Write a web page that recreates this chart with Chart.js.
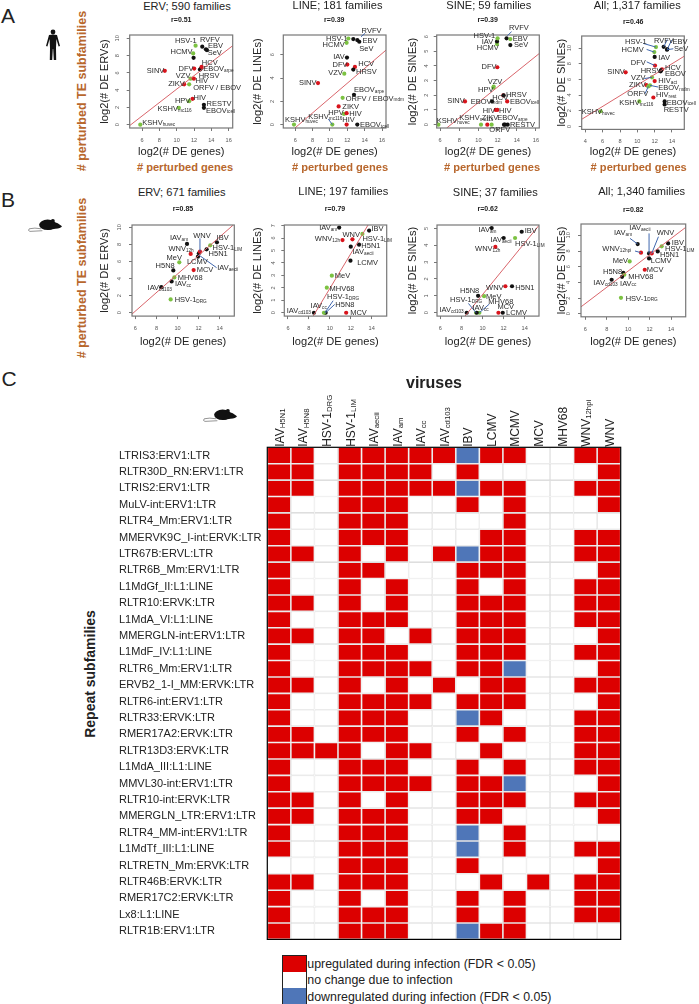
<!DOCTYPE html>
<html>
<head>
<meta charset="utf-8">
<title>TE subfamilies</title>
<script src="https://cdn.jsdelivr.net/npm/chart.js@4/dist/chart.umd.min.js"></script>
<style>
  html, body { margin: 0; padding: 0; background: #fff; }
  #page { position: relative; width: 699px; height: 1004px; overflow: hidden; font-family: "Liberation Sans", Arial, sans-serif; color: #222; }
  #page canvas { position: absolute; }
  .txt { position: absolute; white-space: nowrap; transform: translate(-50%, -50%); }
  .rot { transform: translate(-50%, -50%) rotate(-90deg); }
  .orange { color: #b8672d; font-weight: bold; }
  svg { position: absolute; }
</style>
</head>
<body>
<div id="page"></div>
<script>
"use strict";

// panel A, human infections
var a1Names = ["KSHV|huvec", "KSHV|mc116", "HPV", "HIV", "RESTV", "EBOV|tcell", "ZIKV", "ORFV / EBOV", "VZV", "HIV", "HRSV", "EBOV|arpe", "HCV", "DFV", "SINV", "HCMV", "", "HSV-1", "RVFV", "EBV", "SeV"];
var a1X = [5.8, 10.25, 11.44, 11.83, 13.14, 13.14, 10.86, 11.44, 11.6, 11.98, 12.68, 12.8, 12.87, 12.02, 8.63, 11.9, 11.95, 12.18, 12.95, 13.37, 13.49];
var a1Y = [0, 1.95, 2.72, 3.0, 2.3, 1.95, 4.67, 4.67, 5.33, 5.33, 6.38, 6.5, 6.69, 6.5, 6.23, 8.25, 7.74, 9.14, 9.03, 8.72, 8.64];
var a1Kind = ["g", "g", "g", "r", "k", "k", "r", "g", "g", "r", "k", "k", "r", "r", "r", "g", "k", "g", "k", "k", "k"];

var a2Names = ["KSHV|huvec", "KSHV|mc116", "HPV", "ZIKV", "HIV", "HIV", "ORFV / EBOV|mdm", "EBOV|tcell", "EBOV|arpe", "HCV", "HRSV", "DFV", "IAV", "VZV", "SINV", "HCMV", "HSV-1", "RVFV", "EBV", "SeV"];
var a2X = [5.85, 10.27, 11.62, 11, 11.92, 11.92, 11.46, 13.15, 12.77, 12.88, 12.69, 12, 11.96, 11.65, 8.62, 11.92, 12.12, 12.69, 13.15, 13.38];
var a2Y = [0, 0, 0.92, 1.56, 0.98, 0, 2.3, 0, 2.56, 4.96, 4.73, 5.16, 5.76, 4.38, 3.57, 7.03, 7.4, 7.35, 7.26, 7.12];
var a2Kind = ["g", "g", "g", "r", "r", "r", "g", "k", "k", "r", "k", "r", "k", "g", "r", "g", "g", "k", "k", "k"];

var a3Names = ["KSHV|huvec", "KSHV|mc116", "ZIKV", "", "ORFV", "EBOV|arpe", "RESTV", "HPV", "VZV", "DFV", "SINV", "EBOV|mdm", "HCV", "HRSV", "EBOV|tcell", "HIV", "HIV", "HCMV", "IAV", "HSV-1", "RVFV", "EBV", "SeV"];
var a3X = [5.83, 10.27, 10.93, 11.38, 12.67, 12.77, 13.05, 11.56, 11.59, 11.97, 8.6, 11.42, 12.6, 12.63, 13.0, 11.8, 11.97, 11.94, 11.94, 12, 12.94, 13.33, 13.33];
var a3Y = [0, 0, 0, 0, 0, 0, 0, 2.52, 2.6, 3.91, 1.58, 1.58, 1.99, 1.99, 1.58, 1.0, 1.0, 5.49, 5.67, 5.88, 5.88, 5.83, 5.42];
var a3Kind = ["g", "g", "r", "g", "k", "k", "k", "g", "g", "r", "r", "k", "r", "k", "r", "r", "r", "g", "k", "g", "k", "g", "k"];

var a4Names = ["KSHV|huvec", "KSHV|mc116", "HSV-1", "HCMV", "RVFV", "EBV", "SeV", "IAV", "DFV", "SINV", "HRSV", "HCV", "EBOV", "VZV", "HIV|act", "ZIKV", "EBOV|mdm", "ORFV", "HIV|rest", "EBOV|tcell", "RESTV"];
var a4X = [5.77, 10.23, 12.15, 11.96, 13.04, 13.46, 13.42, 12, 12.04, 8.65, 12.69, 12.85, 12.73, 11.69, 12, 11.04, 11.46, 11.27, 11.85, 13.15, 13.15];
var a4Y = [1.93, 3.18, 10.13, 9.49, 10.17, 9.87, 9.79, 8.88, 7.77, 6.91, 7.04, 7.3, 7.17, 6.27, 5.79, 5.28, 5.24, 5.11, 3.69, 3.18, 2.79];
var a4Kind = ["g", "g", "g", "g", "k", "k", "k", "k", "r", "r", "k", "r", "k", "g", "r", "r", "g", "g", "r", "k", "k"];

// panel B, mouse infections
var b1Names = ["IAV|cd103", "HSV-1|DRG", "IAV|cc", "MHV68", "H5N8", "MeV", "MCV", "LCMV", "IAV|aecii", "WNV", "WNV|12h", "IAV|am", "H5N1", "HSV-1|LIM", "IBV"];
var b1X = [8.46, 9.35, 9.44, 9.7, 9.6, 10.17, 11.53, 11.94, 12.03, 12.13, 11.25, 10.9, 12.76, 13.11, 13.74];
var b1Y = [3, 1.56, 3.67, 4.14, 4.96, 5.9, 5, 6.56, 6.95, 7.15, 6.88, 8.05, 7.42, 7.89, 8.24];
var b1Kind = ["k", "g", "k", "g", "k", "g", "r", "k", "k", "r", "r", "k", "k", "g", "k"];

var b2Names = ["IAV|am", "WNV|12h", "WNV", "HSV-1|LIM", "IBV", "H5N1", "IAV|aecii", "LCMV", "MeV", "MHV68", "HSV-1|DRG", "H5N8", "IAV|cc", "IAV|cd103", "MCV"];
var b2X = [10.89, 11.21, 12.16, 13.11, 13.75, 12.79, 12, 11.97, 10.19, 9.71, 9.52, 9.6, 9.43, 8.48, 11.56];
var b2Y = [6.84, 5.84, 5.9, 6.33, 6.6, 5.47, 5.31, 4.18, 2.98, 2.01, 0, 0, 0, 0, 0];
var b2Kind = ["k", "r", "r", "g", "k", "k", "k", "k", "g", "g", "g", "k", "g", "k", "r"];

var b3Names = ["IAV|am", "IAV|aecii", "HSV-1|LIM", "IBV", "WNV|12h", "WNV", "H5N1", "H5N8", "MeV", "HSV-1|DRG", "MHV68", "IAV|cc", "IAV|cd103", "MCV", "LCMV"];
var b3X = [10.87, 12.01, 13.09, 13.72, 11.22, 12.17, 12.8, 9.58, 10.15, 9.39, 9.7, 9.45, 8.5, 11.51, 11.92];
var b3Y = [5.02, 4.43, 4.43, 4.8, 3.9, 1.57, 1.57, 1.0, 0.98, 0, 0, 0, 0, 0, 0];
var b3Kind = ["k", "k", "g", "k", "r", "r", "k", "k", "g", "g", "g", "k", "k", "r", "k"];

var b4Names = ["IAV|aecii", "IAV|am", "WNV", "WNV|12hpi", "IBV", "HSV-1|LIM", "H5N1", "LCMV", "MeV", "MCV", "H5N8", "MHV68", "IAV|cc", "IAV|cd103", "HSV-1|DRG"];
var b4X = [11.95, 10.89, 12.2, 11.2, 13.73, 13.13, 12.76, 11.95, 10.14, 11.55, 9.55, 9.64, 9.43, 8.46, 9.33];
var b4Y = [7.7, 8.89, 7.7, 7.79, 8.98, 8.6, 7.96, 7.06, 6.68, 5.62, 5.23, 4.98, 4.72, 4.34, 2.04];
var b4Kind = ["k", "k", "r", "r", "k", "g", "k", "k", "g", "r", "k", "g", "k", "k", "g"];

// red reference lines, two ends of each
var a1LineX = [4.58, 16.46], a1LineY = [-0.1, 9.14];
var a2LineX = [5.96, 16.46], a2LineY = [-0.29, 6.4];
var a3LineX = [6.69, 16.35], a3LineY = [-0.23, 4.85];
var a4LineX = [3.58, 15.42], a4LineY = [0.9, 8.97];
var b1LineX = [5.68, 15.29], b1LineY = [-0.15, 10.27];
var b2LineX = [8.41, 13.65], b2LineY = [-0.27, 7.05];
var b3LineX = [8.34, 15.36], b3LineY = [-0.2, 5.18];
var b4LineX = [5.6, 15.37], b4LineY = [0.89, 11.02];

// tick labels
var xTicksA = [6, 8, 10, 12, 14, 16];
var xTicksA4 = [4, 6, 8, 10, 12, 14];
var xTicksB = [6, 8, 10, 12, 14];
var yTicks10 = [0, 2, 4, 6, 8, 10];
var yTicksA2 = [0, 2, 4, 6];
var yTicksA3 = [0, 1, 2, 3, 4, 5, 6];
var yTicksB2 = [0, 1, 2, 3, 4, 5, 6, 7];
var yTicksB3 = [0, 1, 2, 3, 4, 5];

// panel C heatmap: 1 up, 0 no change, -1 down
var repeatNames = ["LTRIS3:ERV1:LTR", "RLTR30D_RN:ERV1:LTR", "LTRIS2:ERV1:LTR", "MuLV-int:ERV1:LTR", "RLTR4_Mm:ERV1:LTR", "MMERVK9C_I-int:ERVK:LTR", "LTR67B:ERVL:LTR", "RLTR6B_Mm:ERV1:LTR", "L1MdGf_II:L1:LINE", "RLTR10:ERVK:LTR", "L1MdA_VI:L1:LINE", "MMERGLN-int:ERV1:LTR", "L1MdF_IV:L1:LINE", "RLTR6_Mm:ERV1:LTR", "ERVB2_1-I_MM:ERVK:LTR", "RLTR6-int:ERV1:LTR", "RLTR33:ERVK:LTR", "RMER17A2:ERVK:LTR", "RLTR13D3:ERVK:LTR", "L1MdA_III:L1:LINE", "MMVL30-int:ERV1:LTR", "RLTR10-int:ERVK:LTR", "MMERGLN_LTR:ERV1:LTR", "RLTR4_MM-int:ERV1:LTR", "L1MdTf_III:L1:LINE", "RLTRETN_Mm:ERVK:LTR", "RLTR46B:ERVK:LTR", "RMER17C2:ERVK:LTR", "Lx8:L1:LINE", "RLTR1B:ERV1:LTR"];
var virusNames = ["IAV|H5N1", "IAV|H5N8", "HSV-1|DRG", "HSV-1|LIM", "IAV|aecii", "IAV|am", "IAV|cc", "IAV|cd103", "IBV", "LCMV", "MCMV", "MCV", "MHV68", "WNV|12hpi", "WNV"];
var cellValues = [
  [1, 1, 0, 1, 1, 1, 1, 1, -1, 1, 1, 0, 0, 1, 1],
  [1, 1, 0, 1, 1, 1, 1, 0, 1, 0, 0, 0, 0, 0, 1],
  [1, 1, 0, 1, 1, 1, 1, 1, -1, 1, 1, 0, 0, 1, 1],
  [1, 0, 0, 1, 1, 1, 0, 0, 1, 0, 1, 0, 0, 0, 1],
  [1, 0, 0, 1, 1, 1, 0, 0, 0, 0, 1, 0, 0, 0, 0],
  [1, 0, 0, 1, 1, 1, 0, 0, 0, 1, 1, 0, 0, 1, 1],
  [1, 1, 0, 1, 0, 1, 0, 1, -1, 1, 1, 0, 0, 1, 1],
  [1, 0, 0, 1, 1, 0, 0, 0, 1, 1, 1, 0, 0, 0, 1],
  [1, 0, 0, 1, 0, 1, 0, 0, 1, 0, 1, 0, 0, 1, 1],
  [1, 1, 0, 1, 0, 1, 0, 0, 1, 1, 1, 0, 0, 1, 1],
  [1, 0, 0, 1, 1, 1, 0, 0, 1, 1, 1, 0, 0, 1, 1],
  [1, 1, 0, 1, 1, 0, 1, 0, 1, 1, 1, 0, 0, 0, 1],
  [1, 0, 0, 1, 1, 1, 0, 0, 1, 1, 1, 0, 0, 1, 1],
  [1, 0, 0, 1, 1, 1, 1, 0, 1, 1, -1, 0, 0, 0, 1],
  [1, 1, 0, 1, 0, 1, 0, 1, 0, 1, 1, 0, 0, 1, 1],
  [1, 0, 0, 1, 1, 1, 1, 0, 1, 1, 1, 0, 0, 0, 1],
  [1, 0, 0, 1, 1, 1, 0, 0, -1, 1, 0, 0, 0, 1, 1],
  [1, 1, 0, 1, 1, 1, 0, 0, 1, 0, 1, 0, 0, 1, 1],
  [1, 1, 1, 1, 0, 1, 1, 0, 0, 1, 0, 0, 0, 1, 1],
  [1, 0, 0, 1, 1, 1, 0, 0, 1, 0, 1, 0, 0, 1, 1],
  [1, 0, 0, 1, 1, 1, 1, 0, 1, 1, -1, 0, 0, 0, 1],
  [1, 1, 0, 1, 0, 1, 0, 0, 1, 1, 1, 0, 0, 1, 1],
  [1, 1, 0, 1, 1, 1, 0, 0, 1, 1, 0, 0, 0, 0, 1],
  [1, 0, 0, 1, 1, 1, 0, 0, -1, 0, 1, 0, 0, 0, 0],
  [1, 0, 0, 1, 1, 1, 0, 0, -1, 0, 1, 0, 0, 1, 1],
  [0, 0, 0, 1, 1, 1, 0, 0, 1, 0, 0, 0, 0, 0, 1],
  [1, 1, 0, 1, 1, 1, 0, 0, 0, 1, 0, 1, 0, 1, 1],
  [1, 0, 0, 1, 0, 1, 0, 0, 1, 0, 1, 0, 0, 1, 1],
  [1, 0, 0, 1, 1, 1, 0, 0, 1, 0, 1, 0, 0, 1, 1],
  [1, 0, 0, 1, 1, 1, 0, 0, -1, 1, 1, 0, 0, 0, 0]
];

// ----- layout and styling from here on -----

var kindColor = { k: "#111111", g: "#7cc242", r: "#d8141c" };
var cellColor = { "1": "#dc0000", "0": "#ffffff", "-1": "#4f76b8" };

// label anchor relative to its point, px
var a1Labels = [[2, -1.3], [-21.3, 1.3], [-14.3, 0], [1, -1.3], [2.7, -1.3], [2, 2.7], [-16, 0], [4, 4], [-14.7, -2.3], [1.7, 2.7], [-1.3, 6], [2.3, 0.7], [0.3, -3.7], [-15.7, 0], [-18, 0.3], [-22.7, -1], [0, 0], [-20.7, -5], [-2.3, -6.7], [2, -3], [0.7, 3.3]];
var a2Labels = [[-9, -5], [-24, -7.3], [-15.7, -0.7], [3.7, 0], [2.7, 0.7], [-4.3, -4.7], [3, 0.7], [2.7, 0], [0, -5], [3.3, -2.7], [2.7, 2.3], [-14.7, 0.7], [-13.7, -0.7], [-16, -0.7], [-19, -0.3], [-24, 2.3], [-22.3, 0], [8.3, -8.3], [5.3, 0.7], [0, 6.7]];
var a3Labels = [[-1.7, -4], [-21.7, -6.3], [-5.7, -6.7], [0, 0], [-14.7, 5.3], [-7.7, -6.7], [2.3, 0], [-15.3, 2.7], [-6, -5], [-15.7, -0.3], [-17.7, -0.7], [-21.3, 0], [-11, 2.7], [2.3, -0.7], [2.7, 0], [-13, 1], [1.7, 1], [-20.3, 4.3], [-15.3, 0.3], [-24, -2.7], [2.3, -10], [2.3, 0.3], [3.7, 0.3]];
var a4Labels = [[-19, 1], [-20, 1.7], [-31, -4.7], [-32.7, -2], [-9.7, -6], [5.3, -7.3], [7, -0.7], [3.7, 1.3], [-24.3, -3], [-18.3, -0.7], [-20, -0.3], [3, -1.7], [4, 3.3], [-21, 0.7], [3.7, 0.3], [-17.3, 0], [8.3, 3], [-21, 8], [2.7, -2.7], [2, 1], [-1, 5]];
var b1Labels = [[-13.7, 1], [4, 0.7], [3.3, 2.7], [3.3, 0.7], [-17.7, -4.3], [-12.7, -4], [3, 0], [-11, 5.3], [18.3, 14.3], [-6.7, -16], [-22.3, -5], [-17, -5.7], [2, 5], [2.3, 2.3], [-0.3, -4.7]];
var b2Labels = [[-20, 0], [-27.7, -1.3], [-10, -4.3], [0, 4.7], [2.3, -1.3], [2.3, 1.3], [1.7, 5.3], [6.7, 2.3], [3, 0], [2.7, 1.3], [2.3, -15.7], [9.7, -8.3], [-13.3, -6.7], [-27.3, -1.7], [4, 0]];
var b3Labels = [[-13.3, 1.7], [-13.3, 1.7], [0, 6.3], [3, -1.3], [-20.3, 2.3], [-19.3, 1.3], [3.3, 1.3], [-18, -5], [2, 0.7], [-26, -12.7], [9, -10.7], [-4.3, -4.7], [-27.3, -2.7], [-1, -5.3], [3.3, 0]];
var b4Labels = [[-19.7, -25], [-23.7, -10.7], [5, -20], [-38.7, -4], [3.7, -0.7], [3.3, 2.7], [2.3, 3.3], [1.7, 3], [-17, 0], [2, 0], [-20.3, -1.3], [4, 2], [-2, 6.7], [-18.3, 3], [4.7, 0.7]];

// blue leader lines: point index, start and end offset in px
var a2Leaders = [[1, 0, 0, -4, -5.7], [17, 7.7, -2.3, 11.7, -5.7]];
var a3Leaders = [[20, 0.7, -2.7, 5, -6.7]];
var a4Leaders = [[2, 0, 0, -12.7, -3.7], [3, 0, 0, -7.7, -2.7], [4, 0, 0, 3.7, -7.3], [5, 0, 0, 4.3, -9], [6, 0, 0, 6.3, -1], [8, 0, 0, -8.3, -3.7], [13, 0, 0, -7.7, 1.3], [16, 0, 0, 8.3, 1.7], [17, 0, 0, -3.3, 7.3]];
var b1Leaders = [[8, 0, 1.7, 17.7, 14.3], [9, 0, 0, 0, -13.3]];
var b2Leaders = [[10, 0, 0, 8.3, -12], [11, 0, 0, 9, -8.3]];
var b3Leaders = [[9, 0, 0, -7.7, -9.3], [10, 0, 0, 10, -8.7]];
var b4Leaders = [[0, 0, 0, 0, -20], [1, 0, 0, -7.7, -5.7], [2, 0, 0, 6.7, -16.7], [3, 0, 0, -6, -1.7]];

var page = document.getElementById("page");

function addText(text, x, y, size, cls, extra) {
  var el = document.createElement("div");
  el.className = "txt " + (cls || "");
  el.textContent = text;
  el.style.left = x + "px";
  el.style.top = y + "px";
  el.style.fontSize = size + "px";
  if (extra) {
    el.style.fontWeight = extra;
  }
  page.appendChild(el);
}

// "NAME|sub" is written as a name with a small subscript
function drawSubLabel(ctx, label, x, y, size, subSize, drop) {
  var parts = label.split("|");
  ctx.font = size + 'px "Liberation Sans"';
  ctx.textAlign = "left";
  ctx.textBaseline = "middle";
  ctx.fillText(parts[0], x, y);
  if (parts[1]) {
    var w = ctx.measureText(parts[0]).width;
    ctx.font = subSize + 'px "Liberation Sans"';
    ctx.fillText(parts[1], x + w, y + drop);
  }
}

function makeCanvas(left, top, width, height) {
  var canvas = document.createElement("canvas");
  canvas.width = width;
  canvas.height = height;
  canvas.style.left = left + "px";
  canvas.style.top = top + "px";
  canvas.style.width = width + "px";
  canvas.style.height = height + "px";
  page.appendChild(canvas);
  return canvas;
}

function pointLabelsPlugin(names, labels, leaders) {
  return {
    id: "pointLabels",
    afterDatasetsDraw: function(chart) {
      var ctx = chart.ctx;
      var area = chart.chartArea;
      var meta = chart.getDatasetMeta(1);
      ctx.save();
      ctx.strokeStyle = "#777777";
      ctx.lineWidth = 1.2;
      ctx.strokeRect(area.left, area.top, area.right - area.left, area.bottom - area.top);
      ctx.strokeStyle = "#3f66ad";
      ctx.lineWidth = 1;
      (leaders || []).forEach(function(l) {
        var p = meta.data[l[0]];
        ctx.beginPath();
        ctx.moveTo(p.x + l[1], p.y + l[2]);
        ctx.lineTo(p.x + l[3], p.y + l[4]);
        ctx.stroke();
      });
      ctx.fillStyle = "#2a2a2a";
      names.forEach(function(name, i) {
        if (name) {
          var p = meta.data[i];
          drawSubLabel(ctx, name, p.x + labels[i][0], p.y + labels[i][1], 7.5, 4.7, 1.6);
        }
      });
      ctx.restore();
    }
  };
}

function drawPanel(p) {
  var padTop = 14, padRight = 30;
  var left = Math.floor(p.yTitleX - 6.6);
  var top = Math.floor(p.box[1] - padTop);
  var axisW = p.box[0] - left;
  var axisH = p.xTitleY + 6.6 - p.box[3];
  var canvas = makeCanvas(left, top, Math.ceil(axisW + p.box[2] - p.box[0] + padRight), Math.ceil(p.box[3] - top + axisH));
  var points = p.x.map(function(v, i) { return { x: v, y: p.y[i] }; });
  var line = p.lineX.map(function(v, i) { return { x: v, y: p.lineY[i] }; });
  var tickFont = { size: 5.6, family: '"Liberation Sans"' };
  var titleFont = { size: 11.1, family: '"Liberation Sans"', lineHeight: 1.2 };
  new Chart(canvas, {
    type: "scatter",
    data: {
      datasets: [
        { data: line, showLine: true, borderColor: "#d9656b", borderWidth: 1, pointRadius: 0 },
        {
          data: points,
          backgroundColor: p.kind.map(function(k) { return kindColor[k]; }),
          borderWidth: 0,
          pointRadius: 2.1
        }
      ]
    },
    options: {
      responsive: false,
      animation: false,
      devicePixelRatio: 1,
      layout: { padding: { top: p.box[1] - top, right: canvas.width - axisW - (p.box[2] - p.box[0]), left: 0, bottom: 0 } },
      plugins: { legend: { display: false }, tooltip: { enabled: false } },
      scales: {
        x: {
          type: "linear",
          min: p.xRange[0],
          max: p.xRange[1],
          afterFit: function(s) { s.height = axisH; },
          afterBuildTicks: function(s) { s.ticks = p.xTicks.map(function(v) { return { value: v }; }); },
          border: { display: false },
          grid: { drawOnChartArea: false, tickLength: 3, color: "#777777" },
          ticks: { font: tickFont, color: "#555555", padding: 6, maxRotation: 0 },
          title: { display: true, text: "log2(# DE genes)", font: titleFont, color: "#222222", padding: 0 }
        },
        y: {
          type: "linear",
          min: p.yRange[0],
          max: p.yRange[1],
          afterFit: function(s) { s.width = axisW; },
          afterBuildTicks: function(s) { s.ticks = p.yTicks.map(function(v) { return { value: v }; }); },
          border: { display: false },
          grid: { drawOnChartArea: false, tickLength: 3, color: "#777777" },
          ticks: { font: tickFont, color: "#555555", padding: 6, minRotation: 90, maxRotation: 90, crossAlign: "center" },
          title: { display: true, text: p.yTitle, font: titleFont, color: "#222222", padding: 0 }
        }
      }
    },
    plugins: [pointLabelsPlugin(p.names, p.labels, p.leaders)]
  });
}

var panels = [
  { names: a1Names, x: a1X, y: a1Y, kind: a1Kind, labels: a1Labels, lineX: a1LineX, lineY: a1LineY, xTicks: xTicksA, yTicks: yTicks10, box: [129.7, 35, 232.7, 127.3], xRange: [4.58, 16.46], yRange: [-0.38, 10.38], yTitle: "log2(# DE ERVs)", yTitleX: 105, xTitleY: 151.7 },
  { names: a2Names, x: a2X, y: a2Y, kind: a2Kind, labels: a2Labels, leaders: a2Leaders, lineX: a2LineX, lineY: a2LineY, xTicks: xTicksA, yTicks: yTicksA2, box: [283.3, 35, 386, 127.3], xRange: [4.62, 16.46], yRange: [-0.29, 7.7], yTitle: "log2(# DE LINEs)", yTitleX: 258, xTitleY: 151.7 },
  { names: a3Names, x: a3X, y: a3Y, kind: a3Kind, labels: a3Labels, leaders: a3Leaders, lineX: a3LineX, lineY: a3LineY, xTicks: xTicksA, yTicks: yTicksA3, box: [436.7, 35, 539.3, 127.3], xRange: [5.65, 16.35], yRange: [-0.23, 6.11], yTitle: "log2(# DE SINEs)", yTitleX: 413, xTitleY: 151.7 },
  { names: a4Names, x: a4X, y: a4Y, kind: a4Kind, labels: a4Labels, leaders: a4Leaders, lineX: a4LineX, lineY: a4LineY, xTicks: xTicksA4, yTicks: yTicks10, box: [581.7, 36, 684.3, 128.7], xRange: [3.58, 15.42], yRange: [-0.39, 11.55], yTitle: "log2(# DE SINEs)", yTitleX: 561.7, xTitleY: 151.7 },
  { names: b1Names, x: b1X, y: b1Y, kind: b1Kind, labels: b1Labels, leaders: b1Leaders, lineX: b1LineX, lineY: b1LineY, xTicks: xTicksB, yTicks: yTicks10, box: [132, 225, 234.3, 316], xRange: [5.68, 15.39], yRange: [-0.39, 10.27], yTitle: "log2(# DE ERVs)", yTitleX: 105, xTitleY: 342.3 },
  { names: b2Names, x: b2X, y: b2Y, kind: b2Kind, labels: b2Labels, leaders: b2Leaders, lineX: b2LineX, lineY: b2LineY, xTicks: xTicksB, yTicks: yTicksB2, box: [284.3, 225, 386.7, 316], xRange: [5.65, 15.43], yRange: [-0.27, 7.05], yTitle: "log2(# DE LINEs)", yTitleX: 258, xTitleY: 342.3 },
  { names: b3Names, x: b3X, y: b3Y, kind: b3Kind, labels: b3Labels, leaders: b3Leaders, lineX: b3LineX, lineY: b3LineY, xTicks: xTicksB, yTicks: yTicksB3, box: [437, 225, 539, 316], xRange: [5.68, 15.36], yRange: [-0.2, 5.2], yTitle: "log2(# DE SINEs)", yTitleX: 413, xTitleY: 342.3 },
  { names: b4Names, x: b4X, y: b4Y, kind: b4Kind, labels: b4Labels, leaders: b4Leaders, lineX: b4LineX, lineY: b4LineY, xTicks: xTicksB, yTicks: yTicks10, box: [581, 224, 685.7, 316.7], xRange: [5.6, 15.37], yRange: [-0.38, 11.45], yTitle: "log2(# DE SINEs)", yTitleX: 561.7, xTitleY: 342.3 }
];

panels.forEach(drawPanel);

// heatmap as stacked horizontal bars, one dataset per virus
function drawHeatmap() {
  var box = { l: 267.3, t: 447.3, r: 620.7, b: 944.3 };
  var canvas = makeCanvas(119, 390, 504, 556);
  var datasets = virusNames.map(function(name, col) {
    return {
      label: name,
      data: repeatNames.map(function() { return 1; }),
      backgroundColor: function(c) { return cellColor[String(cellValues[c.dataIndex][col])]; },
      borderColor: "#dedede",
      borderWidth: 0.8,
      borderSkipped: false,
      barPercentage: 1,
      categoryPercentage: 1,
      inflateAmount: 0
    };
  });
  var headerPlugin = {
    id: "header",
    afterDraw: function(chart) {
      var ctx = chart.ctx;
      var area = chart.chartArea;
      var xs = chart.scales.x;
      ctx.save();
      ctx.strokeStyle = "#000000";
      ctx.lineWidth = 1.2;
      ctx.strokeRect(area.left, area.top, area.right - area.left, area.bottom - area.top);
      ctx.fillStyle = "#222222";
      virusNames.forEach(function(name, i) {
        ctx.save();
        ctx.translate(xs.getPixelForValue(i + 0.5) + 1.5, area.top - 0.5);
        ctx.rotate(-Math.PI / 2);
        drawSubLabel(ctx, name, 0, 0, 12, 7.8, 2.4);
        ctx.restore();
      });
      ctx.restore();
    }
  };
  new Chart(canvas, {
    type: "bar",
    data: { labels: repeatNames, datasets: datasets },
    options: {
      indexAxis: "y",
      responsive: false,
      animation: false,
      devicePixelRatio: 1,
      layout: { padding: { top: box.t - 390, right: 623 - box.r, left: 0, bottom: 946 - box.b } },
      plugins: { legend: { display: false }, tooltip: { enabled: false } },
      scales: {
        x: { stacked: true, display: false, min: 0, max: virusNames.length },
        y: {
          stacked: true,
          afterFit: function(s) { s.width = box.l - 119; },
          border: { display: false },
          grid: { display: false },
          ticks: {
            autoSkip: false,
            crossAlign: "far",
            padding: 0,
            color: "#222222",
            font: { size: 11, family: '"Liberation Sans"' }
          }
        }
      }
    },
    plugins: [headerPlugin]
  });
}

drawHeatmap();

// panel letters, titles
addText("A", 8, 15.5, 21);
addText("B", 8, 200, 21);
addText("C", 9, 379, 21);

var titleText = ["ERV; 590 families", "LINE; 181 families", "SINE; 59 families", "All; 1,317 families", "ERV; 671 families", "LINE; 197 families", "SINE; 37 families", "All; 1,340 families"];
var rText = ["r=0.51", "r=0.39", "r=0.39", "r=0.46", "r=0.85", "r=0.79", "r=0.62", "r=0.82"];
var titlePos = [[187, 5.5], [337.5, 5], [488.8, 5], [637.3, 4.7], [181.7, 191.7], [343.3, 190.7], [495.3, 191.7], [641.7, 191]];
var rPos = [[181.3, 18.5], [334.3, 18.5], [487.7, 18.5], [633.3, 21], [183, 207.7], [335, 207.7], [487.7, 208.3], [633.3, 209.3]];
var perturbedX = [185, 340, 492, 638.7];

titleText.forEach(function(t, i) {
  addText(t, titlePos[i][0], titlePos[i][1], 11.1);
  addText(rText[i], rPos[i][0], rPos[i][1], 7, "", "bold");
});
perturbedX.forEach(function(x) {
  addText("# perturbed genes", x, 167, 11.1, "orange");
});
addText("# perturbed TE subfamilies", 81.7, 91, 12.5, "rot orange");
addText("# perturbed TE subfamilies", 81.7, 278, 12.5, "rot orange");
addText("viruses", 434, 383, 16, "", "bold");
addText("Repeat subfamilies", 90, 674, 14, "rot", "bold");

// legend
var legendColors = ["#dc0000", "#ffffff", "#4f76b8"];
var legendText = ["upregulated during infection (FDR < 0.05)", "no change due to infection", "downregulated during infection (FDR < 0.05)"];
var legendBox = document.createElement("div");
legendBox.style.cssText = "position:absolute;left:282px;top:955px;width:23px;height:48px;border:1.2px solid #222;box-sizing:content-box;";
legendColors.forEach(function(c) {
  var seg = document.createElement("div");
  seg.style.cssText = "height:16px;background:" + c + ";";
  legendBox.appendChild(seg);
});
page.appendChild(legendBox);
legendText.forEach(function(t, i) {
  var el = document.createElement("div");
  el.textContent = t;
  el.style.cssText = "position:absolute;left:307.3px;white-space:nowrap;font-size:12.4px;transform:translateY(-50%);top:" + (964 + i * 16.4) + "px;";
  page.appendChild(el);
});

// silhouettes
function addSilhouette(markup, x, y, w, h, vb) {
  var ns = "http://www.w3.org/2000/svg";
  var svg = document.createElementNS(ns, "svg");
  svg.setAttribute("viewBox", vb);
  svg.setAttribute("width", w);
  svg.setAttribute("height", h);
  svg.style.left = x + "px";
  svg.style.top = y + "px";
  svg.innerHTML = markup;
  page.appendChild(svg);
}
var humanShape = '<circle cx="8" cy="3" r="2.4" fill="#111"/>' +
  '<path d="M4 6 Q8 5 12 6 L15 17 L13.6 17.4 L11.4 10 L11 19 L11.2 31 L8.8 31 L8.2 20 L7.8 20 L7.2 31 L4.8 31 L5 19 L4.6 10 L2.4 17.4 L1 17 Z" fill="#111"/>';
var mouseShape = '<ellipse cx="30" cy="10" rx="13" ry="8" fill="#111"/>' +
  '<path d="M38 5 Q46 7 52 12 Q50 15 42 16 L30 18 Z" fill="#111"/><circle cx="38" cy="4" r="3" fill="#111"/>' +
  '<path d="M20 16 Q10 14 2 16 Q-1 19 3 20 L22 19" fill="none" stroke="#333" stroke-width="0.8"/>';
addSilhouette(humanShape, 45, 29, 16, 31, "0 0 16 31");
addSilhouette(mouseShape, 28, 218, 34, 15, "0 0 52 22");
addSilhouette(mouseShape, 203, 408, 34, 15, "0 0 52 22");
</script>
</body>
</html>
